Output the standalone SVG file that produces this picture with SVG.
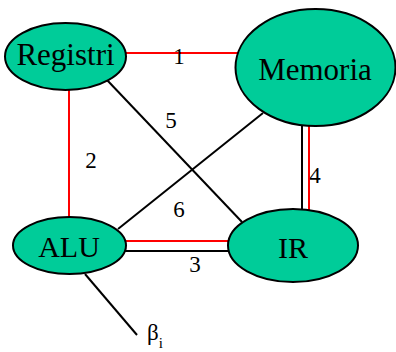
<svg xmlns="http://www.w3.org/2000/svg" width="396" height="352" viewBox="0 0 396 352">
  <style>
    .node { fill: #00CC99; stroke: #000; stroke-width: 2; }
    .red { stroke: #FF0000; stroke-width: 2; fill: none; }
    .blk { stroke: #000; stroke-width: 2; fill: none; }
  </style>
  <rect width="396" height="352" fill="#fff"/>
  <g id="connectors">
    <line class="red" x1="120" y1="53" x2="240" y2="53"/>
    <line class="red" x1="69" y1="85" x2="69" y2="220"/>
    <line class="blk" x1="107" y1="80" x2="242" y2="222"/>
    <line class="blk" x1="118" y1="229" x2="263" y2="113"/>
    <line class="red" x1="120" y1="241" x2="232" y2="241"/>
    <line class="blk" x1="120" y1="251" x2="232" y2="251"/>
    <line class="blk" x1="302" y1="120" x2="302" y2="212"/>
    <line class="red" x1="309" y1="120" x2="309" y2="212"/>
    <line class="blk" x1="85" y1="274" x2="137" y2="335"/>
    <text x="179" y="64" font-family="Liberation Serif" font-size="23" text-anchor="middle">1</text>
    <text x="91" y="168" font-family="Liberation Serif" font-size="23" text-anchor="middle">2</text>
    <text x="195" y="272" font-family="Liberation Serif" font-size="23" text-anchor="middle">3</text>
    <text x="315" y="183" font-family="Liberation Serif" font-size="23" text-anchor="middle">4</text>
    <text x="171" y="128" font-family="Liberation Serif" font-size="23" text-anchor="middle">5</text>
    <text x="179" y="217" font-family="Liberation Serif" font-size="23" text-anchor="middle">6</text>
    <text x="147" y="340" font-family="Liberation Serif" font-size="23">β<tspan font-size="15" dy="8">i</tspan></text>
  </g>
  <g id="registri">
    <ellipse class="node" cx="65.5" cy="56.5" rx="60.5" ry="33.5"/>
    <text x="65.5" y="65" font-family="Liberation Serif" font-size="31" text-anchor="middle">Registri</text>
  </g>
  <g id="memoria">
    <ellipse class="node" cx="315.5" cy="67.5" rx="80" ry="58.5"/>
    <text x="315" y="80" font-family="Liberation Serif" font-size="31" text-anchor="middle">Memoria</text>
  </g>
  <g id="alu">
    <ellipse class="node" cx="69.5" cy="245.5" rx="56.5" ry="28.5"/>
    <text x="69" y="257" font-family="Liberation Serif" font-size="30" text-anchor="middle">ALU</text>
  </g>
  <g id="ir">
    <ellipse class="node" cx="293" cy="245.5" rx="65" ry="36.5"/>
    <text x="293" y="258" font-family="Liberation Serif" font-size="30" text-anchor="middle">IR</text>
  </g>
</svg>
